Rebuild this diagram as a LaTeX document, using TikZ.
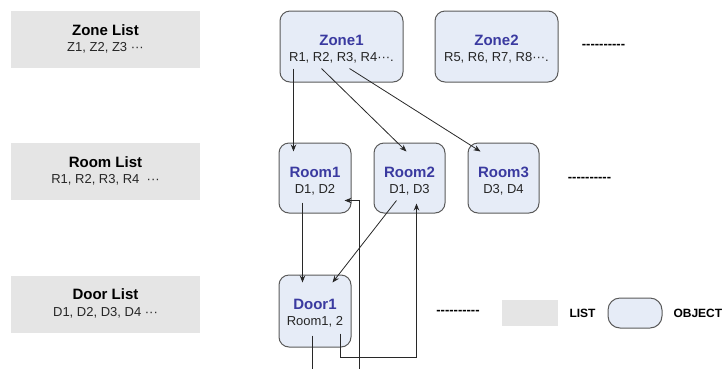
\documentclass[tikz,border=0pt]{standalone}
\usepackage{fontspec}
\setmainfont{Liberation Sans}
\usepackage{tikz}
\usetikzlibrary{arrows.meta}

\definecolor{listgray}{RGB}{229,229,229}
\definecolor{objfill}{RGB}{230,236,247}
\definecolor{objline}{RGB}{90,90,90}
\definecolor{objtitle}{RGB}{58,58,160}
\definecolor{wire}{RGB}{40,40,40}

\tikzset{
  listbox/.style={fill=listgray, minimum width=189pt, minimum height=57pt, inner sep=0pt},
  objbox/.style={draw=objline, line width=1pt, fill=objfill, rounded corners=10pt, inner sep=0pt},
  head/.style={font=\fontsize{15}{15}\selectfont\bfseries},
  sub/.style={font=\fontsize{13}{13}\selectfont, text=black!85},
  wire/.style={draw=wire, line width=0.8pt},
  gap/.style={font=\fontsize{13}{13}\selectfont\bfseries},
  key/.style={font=\fontsize{12}{12}\selectfont\bfseries},
}

\newcommand{\dashes}{-{}-{}-{}-{}-{}-{}-{}-{}-{}-}

\begin{document}
\begin{tikzpicture}[x=1pt, y=-1pt, >={Stealth[length=7pt, width=5.5pt]}]
            \useasboundingbox (0,0) rectangle (723,368);

            % list boxes
            \node[listbox] (zonelist) at (105.5, 39.5) {};
            \node[head] at (105.5, 30) {Zone List};
            \node[sub] at (105.5, 48) {Z1, Z2, Z3 ···};

            \node[listbox] (roomlist) at (105.5, 171.5) {};
            \node[head] at (105.5, 162) {Room List};
            \node[sub] at (105.5, 180) {R1, R2, R3, R4 \ ···};

            \node[listbox] (doorlist) at (105.5, 304) {};
            \node[head] at (105.5, 294.5) {Door List};
            \node[sub] at (105.5, 312.5) {D1, D2, D3, D4 ···};

            % object boxes
            \node[objbox, minimum width=123pt, minimum height=71pt] (zone1) at (341.5, 46.5) {};
            \node[head, objtitle] at (341.5, 40) {Zone1};
            \node[sub] at (341.5, 58) {R1, R2, R3, R4···.};

            \node[objbox, minimum width=123pt, minimum height=71pt] (zone2) at (496.5, 46.5) {};
            \node[head, objtitle] at (496.5, 40) {Zone2};
            \node[sub] at (496.5, 58) {R5, R6, R7, R8···.};

            \node[objbox, minimum width=72pt, minimum height=70pt] (room1) at (315, 178) {};
            \node[head, objtitle] at (315, 172) {Room1};
            \node[sub] at (315, 190) {D1, D2};

            \node[objbox, minimum width=71pt, minimum height=70pt] (room2) at (409.5, 178) {};
            \node[head, objtitle] at (409.5, 172) {Room2};
            \node[sub] at (409.5, 190) {D1, D3};

            \node[objbox, minimum width=71pt, minimum height=70pt] (room3) at (503.5, 178) {};
            \node[head, objtitle] at (503.5, 172) {Room3};
            \node[sub] at (503.5, 190) {D3, D4};

            \node[objbox, minimum width=72pt, minimum height=72pt] (door1) at (315, 311) {};
            \node[head, objtitle] at (315, 304) {Door1};
            \node[sub] at (315, 322) {Room1, 2};

            % more objects
            \node[gap] (zonemore) at (603.5, 46) {\dashes};
            \node[gap] (roommore) at (589.5, 179) {\dashes};
            \node[gap] (doormore) at (458, 312) {\dashes};

            % legend
            \node[fill=listgray, minimum width=56pt, minimum height=26pt, inner sep=0pt] (keylist) at (530, 313) {};
            \node[key, anchor=west] (keylisttxt) at (566, 313.5) {LIST};
            \node[objbox, rounded corners=12pt, minimum width=54pt, minimum height=30pt] (keyobj) at (635, 313) {};
            \node[key, anchor=west] (keyobjtxt) at (670, 313.5) {OBJECT};

            % zone -> rooms
            \draw[wire, ->] ([shift={(14,-14)}]zone1.south west) -- ([shift={(15,9)}]room1.north west);
            \draw[wire, ->] ([shift={(42,-14)}]zone1.south west) -- ([shift={(33,9)}]room2.north west);
            \draw[wire, ->] ([shift={(70,-14)}]zone1.south west) -- ([shift={(13,9)}]room3.north west);

            % rooms -> door
            \draw[wire, ->] ([shift={(24,-11)}]room1.south west) -- ([shift={(24,8)}]door1.north west);
            \draw[wire, ->] ([shift={(23,-13)}]room2.south west) -- ([shift={(54,8)}]door1.north west);

            % door -> rooms
            \coordinate (doorout1) at ([shift={(34,21)}]door1.south west);
            \coordinate (doorout2) at ([shift={(81,21)}]door1.south west);
            \draw[wire] ([shift={(34,-12)}]door1.south west) -- (doorout1);
            \draw[wire, ->] ([shift={(62,-14)}]door1.south west) |- ++(76,24) -- ([shift={(43,-10)}]room2.south west);
            \draw[wire, ->] (doorout2) |- ([shift={(-7,-13)}]room1.south east);
\end{tikzpicture}
\end{document}
